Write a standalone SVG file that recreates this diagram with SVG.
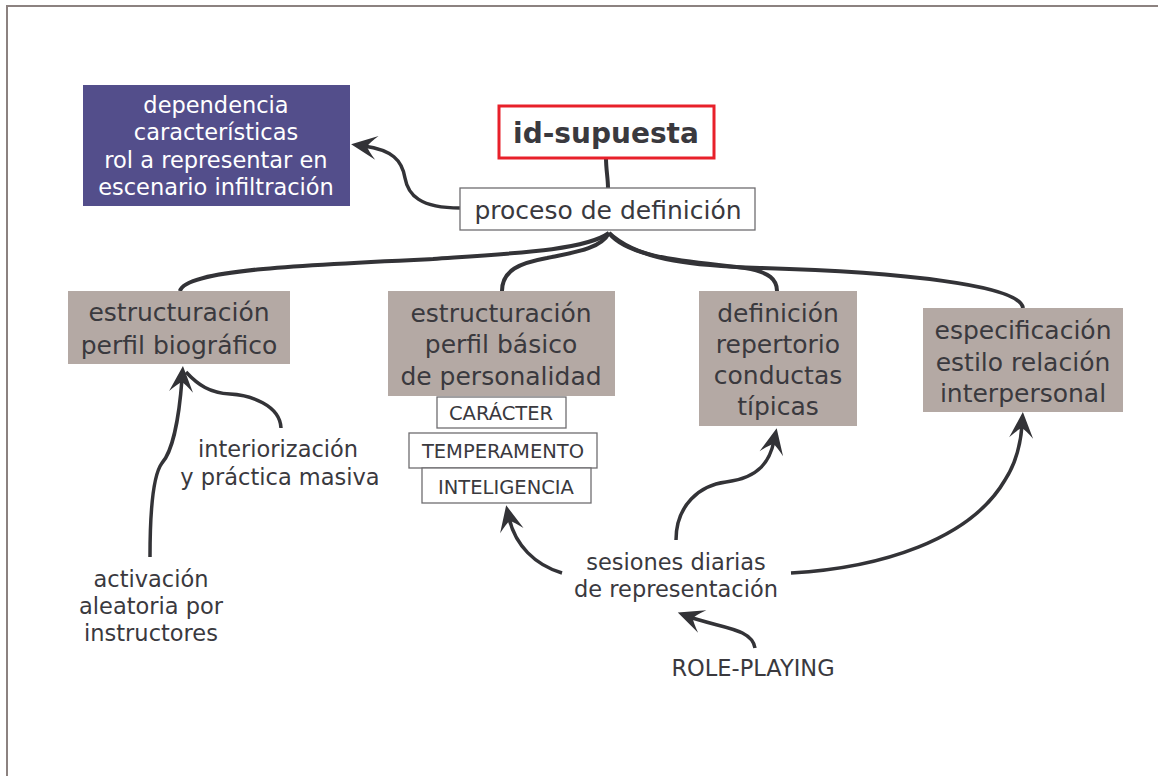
<svg xmlns="http://www.w3.org/2000/svg" width="1158" height="776" viewBox="0 0 1158 776">
<style>
text{font-family:"DejaVu Sans","Liberation Sans",sans-serif;fill:#3a393e;text-anchor:middle;dominant-baseline:central}
.w{fill:#ffffff;font-size:22.5px}
.big{font-size:25px}
.mid{font-size:22.5px}
.cap{font-size:19.5px}
.gray{fill:#b4a9a4}
.box{fill:#ffffff;stroke:#6f6d70;stroke-width:1.3}
.con{fill:none;stroke:#333337;stroke-width:4}
.arr{fill:none;stroke:#333337;stroke-width:3.5}
</style>
<defs>
<marker id="ah" viewBox="-28 -14 30 28" refX="-13" refY="0" markerWidth="30" markerHeight="28" markerUnits="userSpaceOnUse" orient="auto">
<path d="M0,0 L-26,-12 Q-18,-4 -16,0 Q-18,4 -26,12 Z" fill="#333337"/>
</marker>
</defs>
<rect x="0" y="0" width="1158" height="776" fill="#ffffff"/>
<path d="M7,777 L7,6 L1160,6" fill="none" stroke="#8c8280" stroke-width="2"/>
<g id="connectors">
<path class="con" d="M606,158 C606,170 608,178 608,188"/>
<path class="con" d="M609,233 C585,250 520,253 433,259 C300,265 185,270 180,291"/>
<path class="con" d="M609,233 C600,250 570,253 547,258 C520,263 502,270 502,291"/>
<path class="con" d="M609,233 C630,260 700,262 745,268 C770,272 777,280 777,291"/>
<path class="con" d="M609,233 C640,262 700,266 760,268 C900,272 1020,285 1023,308"/>
<path class="arr" marker-end="url(#ah)" d="M460,208 C420,208 408,195 405,178 C402,160 392,150 364,146"/>
<path class="arr" marker-end="url(#ah)" d="M150,557 C150,510 153,475 162,463 C172,452 179,420 182,379"/>
<path class="arr" d="M281,428 C280,405 250,395 230,394 C210,393 198,385 186,372"/>
<path class="arr" marker-end="url(#ah)" d="M676,540 C676,505 700,485 726,482 C760,478 770,460 774,441"/>
<path class="arr" marker-end="url(#ah)" d="M562,573 C535,565 515,545 509,518"/>
<path class="arr" marker-end="url(#ah)" d="M791,573 C880,568 970,540 1005,480 C1018,460 1021,440 1022,425"/>
<path class="arr" marker-end="url(#ah)" d="M755,648 C752,628 720,628 690,617"/>
</g>
<g id="n-dependencia">
<rect x="83" y="85" width="267" height="121" fill="#534e8b"/>
<text class="w" x="216" y="105">dependencia</text>
<text class="w" x="216" y="132">características</text>
<text class="w" x="216" y="160">rol a representar en</text>
<text class="w" x="216" y="187">escenario infiltración</text>
</g>
<g id="n-idsupuesta">
<rect x="499" y="106" width="215" height="52" fill="#ffffff" stroke="#e8202a" stroke-width="3"/>
<text x="606" y="133" style="font-size:28px;font-weight:bold">id-supuesta</text>
</g>
<g id="n-proceso">
<rect class="box" x="460" y="188" width="295" height="42"/>
<text class="big" x="608" y="210">proceso de definición</text>
</g>
<g id="n-biografico">
<rect class="gray" x="68" y="291" width="222" height="73"/>
<text class="big" x="179" y="312">estructuración</text>
<text class="big" x="179" y="345">perfil biográfico</text>
</g>
<g id="n-personalidad">
<rect class="gray" x="388" y="291" width="227" height="105"/>
<text class="big" x="501" y="313">estructuración</text>
<text class="big" x="501" y="344">perfil básico</text>
<text class="big" x="501" y="376">de personalidad</text>
</g>
<g id="n-caracter">
<rect class="box" x="437" y="397" width="129" height="31"/>
<text class="cap" x="501" y="413">CARÁCTER</text>
</g>
<g id="n-temperamento">
<rect class="box" x="409" y="433" width="188" height="35"/>
<text class="cap" x="503" y="451">TEMPERAMENTO</text>
</g>
<g id="n-inteligencia">
<rect class="box" x="422" y="468" width="169" height="35"/>
<text class="cap" x="506" y="487">INTELIGENCIA</text>
</g>
<g id="n-conductas">
<rect class="gray" x="699" y="291" width="158" height="135"/>
<text class="big" x="778" y="313">definición</text>
<text class="big" x="778" y="344">repertorio</text>
<text class="big" x="778" y="375">conductas</text>
<text class="big" x="778" y="406">típicas</text>
</g>
<g id="n-interpersonal">
<rect class="gray" x="923" y="308" width="200" height="104"/>
<text class="big" x="1023" y="330">especificación</text>
<text class="big" x="1023" y="362">estilo relación</text>
<text class="big" x="1023" y="393">interpersonal</text>
</g>
<g id="n-interiorizacion">
<text class="mid" x="278" y="449">interiorización</text>
<text class="mid" x="280" y="477">y práctica masiva</text>
</g>
<g id="n-activacion">
<text class="mid" x="151" y="579">activación</text>
<text class="mid" x="151" y="606">aleatoria por</text>
<text class="mid" x="151" y="633">instructores</text>
</g>
<g id="n-sesiones">
<text class="mid" x="676" y="562">sesiones diarias</text>
<text class="mid" x="676" y="589">de representación</text>
</g>
<g id="n-roleplaying">
<text class="mid" x="753" y="668">ROLE-PLAYING</text>
</g>
</svg>
